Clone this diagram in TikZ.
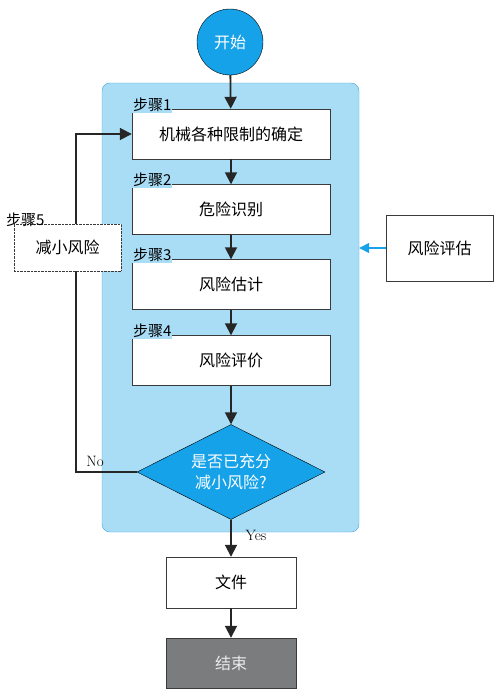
\documentclass[tikz,border=0pt]{standalone}
\usepackage{fontspec}
\newfontfamily\cjk{Noto Sans CJK SC}
\usetikzlibrary{shapes.geometric, arrows.meta}
\definecolor{regionblue}{HTML}{A9DDF6}
\definecolor{regionedge}{HTML}{3EA6DA}
\definecolor{startblue}{HTML}{16A2E8}
\definecolor{boxgray}{HTML}{3A3A3A}
\definecolor{endgray}{HTML}{7B7C7E}
\begin{document}
\begin{tikzpicture}[x=1pt, y=-1pt,
        stepbox/.style={draw=boxgray, fill=white, minimum width=198pt, minimum height=50pt, font=\cjk\fontsize{16}{18}\selectfont},
        steplabel/.style={fill=regionblue, inner sep=1pt, anchor=south west, font=\cjk\fontsize{15}{17}\selectfont},
        arrow/.style={-{Triangle[length=12pt, width=12pt]}, line width=1.8pt, draw=black!85}
    ]
        \useasboundingbox (0,0) rectangle (499,696);

        % Risk assessment region (absolute positioning)
        \node[draw=regionedge, fill=regionblue, rounded corners=8pt, minimum width=257pt, minimum height=449pt] (region) at (230.5, 307.5) {};

        % Start
        \node[circle, draw=black, fill=startblue, minimum size=66pt, text=white, font=\cjk\fontsize{16}{18}\selectfont] (start) at (230, 42) {开始};

        % Steps
        \node[stepbox] (limits) at (231, 134) {机械各种限制的确定};
        \node[stepbox] (identify) at (231, 209.5) {危险识别};
        \node[stepbox] (estimate) at (231, 284.5) {风险估计};
        \node[stepbox] (evaluate) at (231, 360.5) {风险评价};
        \node[steplabel] (s1) at ([yshift=-4pt]limits.north west) {步骤1};
        \node[steplabel] (s2) at ([yshift=-4pt]identify.north west) {步骤2};
        \node[steplabel] (s3) at ([yshift=-4pt]estimate.north west) {步骤3};
        \node[steplabel] (s4) at ([yshift=-4pt]evaluate.north west) {步骤4};

        % Decision
        \node[diamond, draw=black, fill=startblue, aspect=2, inner sep=0pt, minimum width=188pt, minimum height=95pt, align=center, text=white, font=\cjk\fontsize{16}{21}\selectfont] (enough) at (231, 472) {是否已充分\\减小风险?};

        % Output
        \node[draw=boxgray, fill=white, minimum width=130pt, minimum height=51pt, font=\cjk\fontsize{16}{18}\selectfont] (doc) at (231, 582.5) {文件};
        \node[draw=boxgray, fill=endgray, minimum width=130pt, minimum height=50pt, text=white!92!black, font=\cjk\fontsize{16}{18}\selectfont] (stop) at (231, 663) {结束};

        % Assessment box on the right
        \node[draw=boxgray, fill=white, minimum width=107pt, minimum height=66pt, font=\cjk\fontsize{16}{18}\selectfont] (assess) at (439.5, 248) {风险评估};

        % Arrows
        \coordinate (loop) at (76, 472);
        \draw[arrow] (start) -- (limits);
        \draw[arrow] (limits) -- (identify);
        \draw[arrow] (identify) -- (estimate);
        \draw[arrow] (estimate) -- (evaluate);
        \draw[arrow] (evaluate) -- (enough);
        \draw[arrow] (enough) -- (doc);
        \draw[arrow] (doc) -- (stop);
        \draw[arrow] (enough.west) -- (loop) |- (limits.west);
        \draw[-{Triangle[length=10pt, width=10pt]}, line width=1.5pt, draw=startblue] (assess.west) -- (assess.west -| region.east);

        % Step 5 (drawn over the loop line)
        \node[draw=boxgray, densely dotted, fill=white, minimum width=107pt, minimum height=47pt, font=\cjk\fontsize{16}{18}\selectfont] (reduce) at (67.5, 247.5) {减小风险};
        \node[inner sep=1pt, anchor=south west, font=\cjk\fontsize{15}{17}\selectfont] (s5) at (5, 228) {步骤5};

        % Branch labels
        \node[font=\fontsize{15}{17}\selectfont] (no) at (95, 461) {No};
        \node[font=\fontsize{15}{17}\selectfont] (yes) at (256, 535) {Yes};

    \end{tikzpicture}
\end{document}
